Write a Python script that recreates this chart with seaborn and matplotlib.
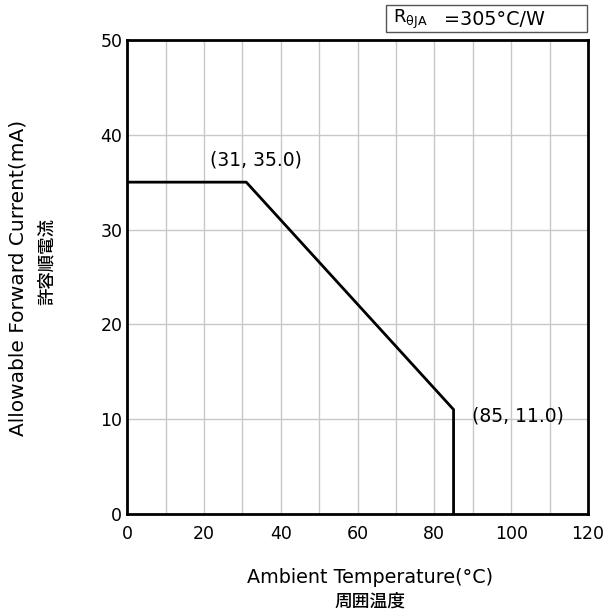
import pandas as pd
import matplotlib.pyplot as plt
import seaborn as sns
from matplotlib.ticker import MultipleLocator
from matplotlib.patches import Rectangle

# derating curve
temp = [0, 31, 85, 85]
current = [35.0, 35.0, 11.0, 0.0]
labels = ["(31, 35.0)", "(85, 11.0)"]
label_pts = [(31, 35.0), (85, 11.0)]

sns.set_style("white")
plt.rcParams['font.family'] = ['DejaVu Sans', 'Noto Sans CJK JP']
plt.rcParams['text.color'] = 'black'
plt.rcParams['xtick.color'] = 'black'
plt.rcParams['ytick.color'] = 'black'

fig = plt.figure(figsize=(6.03, 6.16), dpi=100)
ax = fig.add_axes([0.211, 0.166, 0.764, 0.769])

df = pd.DataFrame({"temp": temp, "current": current})
sns.lineplot(data=df, x="temp", y="current", sort=False, estimator=None,
             color="black", linewidth=2, ax=ax)

ax.set_xlim(0, 120)
ax.set_ylim(0, 50)
ax.xaxis.set_major_locator(MultipleLocator(20))
ax.xaxis.set_minor_locator(MultipleLocator(10))
ax.yaxis.set_major_locator(MultipleLocator(10))
ax.grid(which="both", axis="x", color="#c8c8c8", linewidth=1)
ax.grid(which="major", axis="y", color="#c8c8c8", linewidth=1)
ax.tick_params(which="both", direction="in", length=4, labelsize=12.5)
ax.tick_params(axis="x", pad=8)
for s in ax.spines.values():
    s.set_color("black")
    s.set_linewidth(2)
ax.set_xlabel("")
ax.set_ylabel("")

# point labels
ax.annotate(labels[0], label_pts[0], xytext=(7, 16), textcoords="offset points",
            ha="center", va="center", fontsize=13.5)
ax.annotate(labels[1], label_pts[1], xytext=(13, -5), textcoords="offset points",
            ha="left", va="center", fontsize=13.5)

# axis titles
fig.text(0.03, 0.549, "Allowable Forward Current(mA)", rotation=90,
         ha="center", va="center", fontsize=14.5)
fig.text(0.078, 0.575, "許容順電流", rotation=90, ha="center", va="center",
         fontsize=12.5, family=['Noto Sans CJK JP'], fontweight="medium")
fig.text(0.614, 0.062, "Ambient Temperature(°C)", ha="center", va="center", fontsize=13.8)
fig.text(0.614, 0.024, "周囲温度", ha="center", va="center", fontsize=12.8,
         family=['Noto Sans CJK JP'], fontweight="medium")

# thermal resistance box
fig.patches.append(Rectangle((0.640, 0.948), 0.333, 0.044, transform=fig.transFigure,
                             facecolor="white", edgecolor="#555555", linewidth=1))
fig.text(0.652, 0.969, r"R$_{\mathregular{θJA}}$", ha="left", va="center", fontsize=13)
fig.text(0.737, 0.969, "=305°C/W", ha="left", va="center", fontsize=13.8)

fig.savefig("out.png", dpi=100)
